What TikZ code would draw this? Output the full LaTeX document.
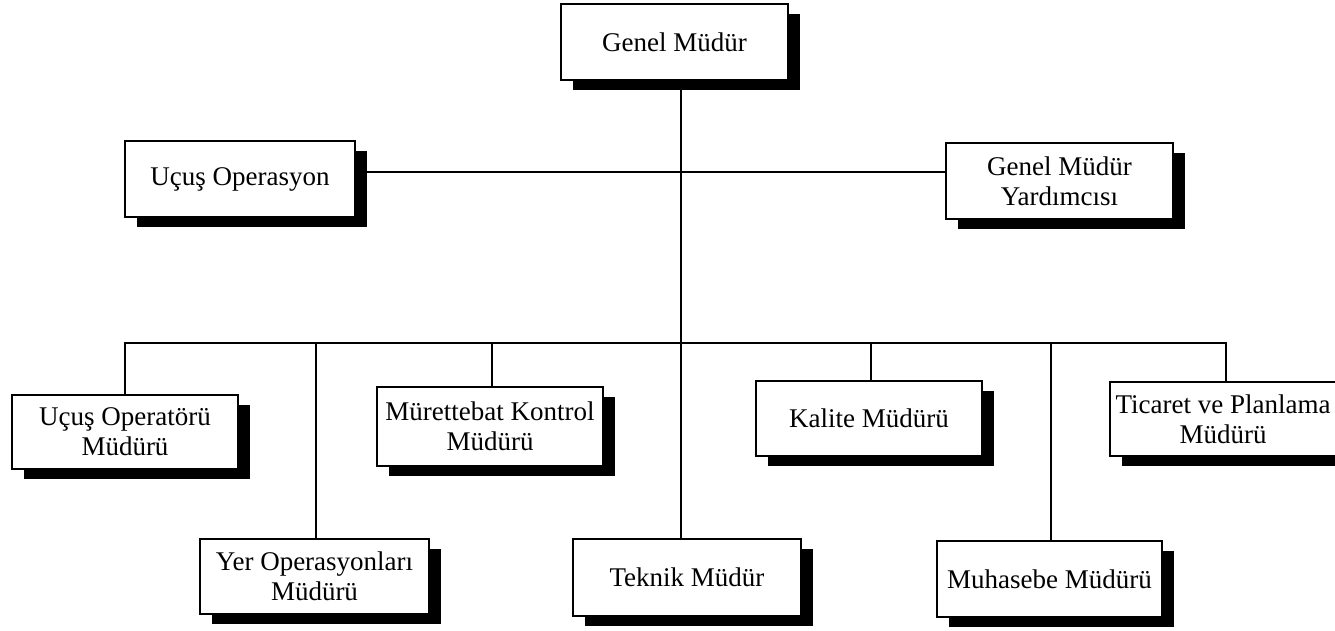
\documentclass[tikz,border=0pt]{standalone}
\usepackage{fontspec}
\setmainfont{Liberation Serif}
\usetikzlibrary{shadows}
\begin{document}
\begin{tikzpicture}[x=1pt,y=-1pt,
  box/.style={draw, line width=1.4pt, fill=white, inner sep=0pt, outer sep=0pt,
    align=center, font=\fontsize{27}{30}\selectfont,
    drop shadow={fill=black, opacity=1, shadow xshift=12pt, shadow yshift=-10pt}},
  link/.style={line width=1.4pt}]
\path[use as bounding box, clip] (0,0) rectangle (1335,630);
\fill[white] (0,0) rectangle (1335,630);

% top level
\node[box, minimum width=227pt, minimum height=76pt] (gm) at (674.5,42) {Genel Müdür};
\node[box, minimum width=230pt, minimum height=76pt] (uo) at (240,179) {Uçuş Operasyon};
\node[box, minimum width=227pt, minimum height=76pt] (gmy) at (1059.5,181) {Genel Müdür\\Yardımcısı};

% upper row of departments
\node[box, minimum width=226pt, minimum height=74pt] (uom) at (125,432) {Uçuş Operatörü\\Müdürü};
\node[box, minimum width=226pt, minimum height=79pt] (mkm) at (490,426.5) {Mürettebat Kontrol\\Müdürü};
\node[box, minimum width=226pt, minimum height=75pt] (km) at (869,418.5) {Kalite Müdürü};
\node[box, minimum width=226pt, minimum height=74pt] (tpm) at (1223,419) {Ticaret ve Planlama\\Müdürü};

% lower row of departments
\node[box, minimum width=229pt, minimum height=75pt] (yom) at (314.5,576.5) {Yer Operasyonları\\Müdürü};
\node[box, minimum width=228pt, minimum height=77pt] (tm) at (687,577.5) {Teknik Müdür};
\node[box, minimum width=225pt, minimum height=76pt] (mm) at (1049.5,579) {Muhasebe Müdürü};

% trunk, staff line and bus
\coordinate (trunk) at (681,343);
\coordinate (staff) at (681,172);
\draw[link] (gm.south -| trunk) -- (tm.north -| trunk);
\draw[link] (uo.east |- staff) -- (gmy.west |- staff);
\draw[link] (uom.north) |- (trunk) -| ([xshift=3pt]tpm.north);
\draw[link] (yom.north -| 316,0) -- (316,343);
\draw[link] ([xshift=2pt]mkm.north) -- ([xshift=2pt]mkm.north |- trunk);
\draw[link] ([xshift=2pt]km.north) -- ([xshift=2pt]km.north |- trunk);
\draw[link] ([xshift=1.5pt]mm.north) -- ([xshift=1.5pt]mm.north |- trunk);
\end{tikzpicture}
\end{document}
